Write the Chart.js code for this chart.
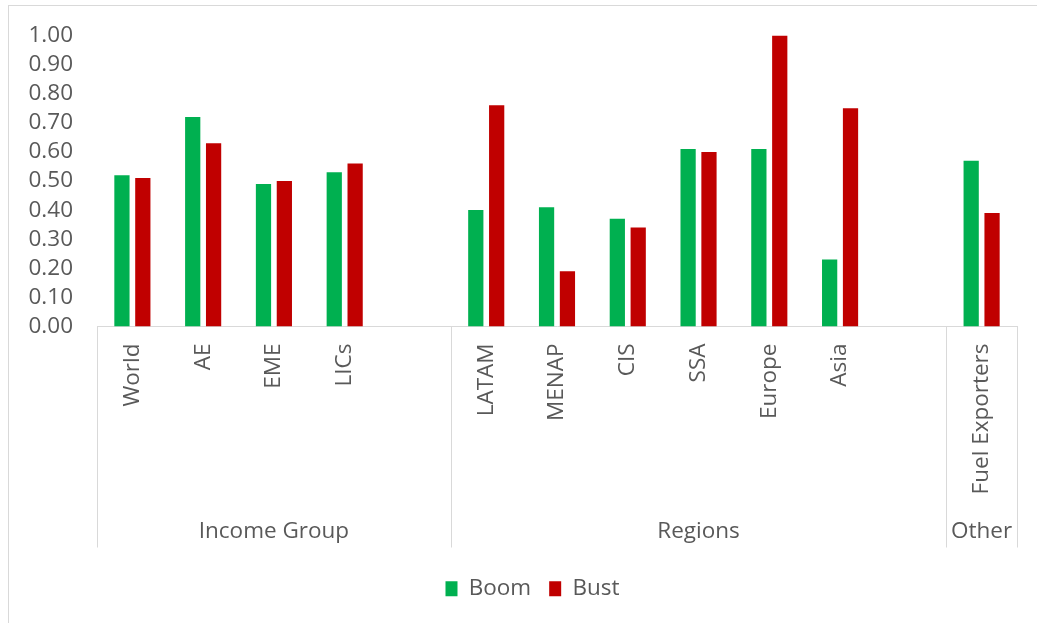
<!DOCTYPE html>
<html>
<head>
<meta charset="utf-8">
<script src="https://cdn.jsdelivr.net/npm/chart.js@4.4.1/dist/chart.umd.min.js"></script>
<style>
  html, body { margin: 0; padding: 0; background: #fff; overflow: hidden; }
  #frame { position: absolute; left: 8px; top: 5px; width: 1060px; height: 650px;
           border-left: 1px solid #d9d9d9; border-top: 1px solid #d9d9d9; }
  #chart { display: block; }
</style>
</head>
<body>
<div id="frame"><canvas id="chart" width="1047" height="624"></canvas></div>
<script>
// categories along the x axis; blanks leave the gaps between groups
const categories = ['World', 'AE', 'EME', 'LICs', '', 'LATAM', 'MENAP', 'CIS', 'SSA', 'Europe', 'Asia', '', 'Fuel Exporters'];
const groupNames = ['Income Group', 'Regions', 'Other'];
const groupFrom = [0, 5, 12];
const groupTo = [4, 11, 12];

const boom = [0.52, 0.72, 0.49, 0.53, null, 0.40, 0.41, 0.37, 0.61, 0.61, 0.23, null, 0.57];
const bust = [0.51, 0.63, 0.50, 0.56, null, 0.76, 0.19, 0.34, 0.60, 1.00, 0.75, null, 0.39];

const yMin = 0, yMax = 1, yStep = 0.1;

const GREEN = '#00b050';
const RED = '#c00000';
const TEXT = '#595959';
const LINE = '#d9d9d9';
const FONT = '"Open Sans", sans-serif';
const FONT_SIZE = 22.5;
const GROUP_DEPTH = 221; // how far the group separators reach below the axis

// second level of the category axis: separators and group names
const groupAxis = {
  id: 'groupAxis',
  afterDraw(chart) {
    const x = chart.scales.x;
    const ctx = chart.ctx;
    const half = (x.getPixelForValue(1) - x.getPixelForValue(0)) / 2;
    ctx.save();
    ctx.strokeStyle = LINE;
    ctx.lineWidth = 1;
    const edges = [groupFrom[0], ...groupTo.map(t => t + 1)];
    edges.forEach(i => {
      const px = Math.round(x.getPixelForValue(i) - half) + 0.5;
      ctx.beginPath();
      ctx.moveTo(px, x.top);
      ctx.lineTo(px, x.top + GROUP_DEPTH);
      ctx.stroke();
    });
    ctx.fillStyle = TEXT;
    ctx.font = FONT_SIZE + 'px ' + FONT;
    ctx.textAlign = 'center';
    ctx.textBaseline = 'middle';
    groupNames.forEach((name, g) => {
      const cx = (x.getPixelForValue(groupFrom[g]) + x.getPixelForValue(groupTo[g])) / 2;
      ctx.fillText(name, cx, x.top + GROUP_DEPTH - 16);
    });
    ctx.restore();
  }
};

new Chart(document.getElementById('chart'), {
  type: 'bar',
  data: {
    labels: categories,
    datasets: [
      { label: 'Boom', data: boom, backgroundColor: GREEN },
      { label: 'Bust', data: bust, backgroundColor: RED }
    ]
  },
  options: {
    responsive: false,
    animation: false,
    devicePixelRatio: 1,
    datasets: { bar: { categoryPercentage: 0.59, barPercentage: 0.73 } },
    layout: { padding: { top: 24, right: 0, left: 0, bottom: 20 } },
    plugins: {
      legend: {
        position: 'bottom',
        labels: {
          color: TEXT,
          font: { family: FONT, size: FONT_SIZE },
          boxWidth: 12,
          boxHeight: 15,
          padding: 18
        }
      },
      tooltip: { enabled: false }
    },
    scales: {
      x: {
        grid: { display: false },
        border: { display: true, color: LINE },
        ticks: {
          color: TEXT,
          font: { family: FONT, size: FONT_SIZE },
          minRotation: 90,
          maxRotation: 90,
          autoSkip: false,
          padding: 9
        },
        afterFit: scale => { scale.height = GROUP_DEPTH + 12; }
      },
      y: {
        min: yMin,
        max: yMax,
        grid: { display: false },
        border: { display: false },
        ticks: {
          stepSize: yStep,
          autoSkip: false,
          color: TEXT,
          font: { family: FONT, size: FONT_SIZE },
          padding: 16,
          callback: v => Number(v).toFixed(2)
        },
        afterFit: scale => { scale.width = 88; }
      },
      // empty margin on the right of the plot
      yRight: {
        position: 'right',
        grid: { display: false },
        border: { display: false },
        ticks: { display: false },
        afterFit: scale => { scale.width = 39; }
      }
    }
  },
  plugins: [groupAxis]
});
</script>
</body>
</html>
